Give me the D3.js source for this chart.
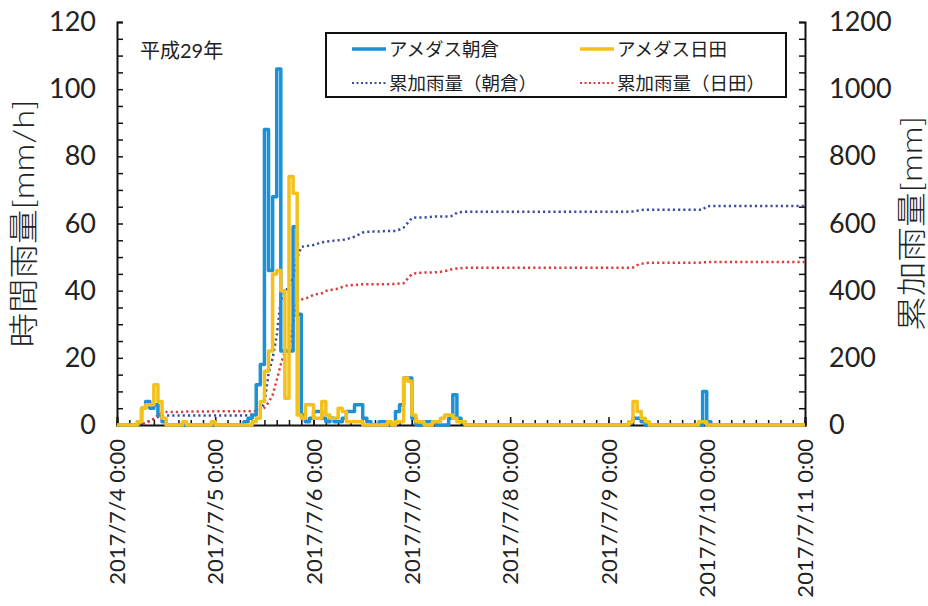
<!DOCTYPE html>
<html>
<head>
<meta charset="utf-8">
<script src="https://cdn.jsdelivr.net/npm/d3@7"></script>
<style>
  body { margin: 0; background: #fff; }
  text { font-family: Lato, "Noto Sans CJK JP", sans-serif; fill: #222; }
</style>
</head>
<body>
<svg id="chart" width="928" height="606"></svg>
<script>
// Hourly rainfall, 2017-07-04 00:00 to 2017-07-11 00:00 (one value per hour)
const startTime = new Date(2017, 6, 4, 0, 0);
const endTime = new Date(2017, 6, 11, 0, 0);

const asakura = [
  0,0,0,0,0, 1,5,7,5,6,3,1,
  0,0,0,0,0,0,0,0,0,0,0,0,0,0,0,0,0,0,0,
  1,2,3,12,18,88,46,68,106,22,22,22,59,33,
  3,1,2,4,4,2,1,2,1,1,2,4,4,6,6,2,1,
  0,0,1,1,0,0,4,6,14,14,2,0,0,1,1,1,0,0,0,2,9,2,1,
  0,0,0,0,0,0,0,0,0,0,0,0,0,0,0,0,0,0,0,0,
  0,0,0,0,0,0,0,0,0,0,0,0,0,0,0,0,0,0,0,0,
  1,2,2,1,
  0,0,0,0,0,0,0,0,0,0,0,0,0,0,
  10,1,
  0,0,0,0,0,0,0,0,0,0,0,0,0,0,0,0,0,0,0,0,0,0,0
];

const hita = [
  0,0,0,0,0, 1,5,6,6,12,7,2,
  0,0,0,0,1,0,0,0,0,0,0,1,
  0,0,0,0,0,0,0,0,0,
  1,2,7,16,22,45,46,40,8,74,69,3,
  2,6,6,2,2,7,3,2,2,5,4,1,1,1,1,0,
  0,0,0,0,0,1,0,1,
  1,14,13,3,
  1,1,0,0,1,1,2,3,3,2,1,1,
  0,0,0,0,0,0,0,0,0,0,0,0,0,0,0,0,0,0,0,0,
  0,0,0,0,0,0,0,0,0,0,0,0,0,0,0,0,0,0,0,0,
  1,7,4,2,1,
  0,0,0,0,0,0,0,0,0,0,0,0,
  1,1,
  0,0,0,0,0,0,0,0,0,0,0,0,0,0,0,0,0,0,0,0,0,0,0,0
];

const hourlyTicks = [0, 20, 40, 60, 80, 100, 120];
const cumulativeTicks = [0, 200, 400, 600, 800, 1000, 1200];
const seriesNames = ["アメダス朝倉", "アメダス日田", "累加雨量（朝倉）", "累加雨量（日田）"];
const seriesColors = ["#1d90d6", "#f4c01a", "#3b4e9e", "#e2383a"];
const yearLabel = "平成29年";
const leftTitle = "時間雨量[mm/h]";
const rightTitle = "累加雨量[mm]";

const W = 928, H = 606;
const margin = { left: 117, right: 123, top: 22, bottom: 181 };
const svg = d3.select("#chart");

const x = d3.scaleTime().domain([startTime, endTime]).range([margin.left, W - margin.right]);
const yL = d3.scaleLinear().domain([0, 120]).range([H - margin.bottom, margin.top]);
const yR = d3.scaleLinear().domain([0, 1200]).range([H - margin.bottom, margin.top]);

const hourAt = i => d3.timeHour.offset(startTime, i);
const fmt = d3.timeFormat("%Y/%-m/%-d %-H:%M");

// ---- axes ----
const bottomY = H - margin.bottom;
// 3-hour minor ticks
svg.append("g").attr("transform", `translate(0,${bottomY})`)
  .call(d3.axisBottom(x).ticks(d3.timeHour.every(3)).tickSize(-5).tickFormat(""))
  .call(g => g.select(".domain").remove())
  .selectAll("line").attr("stroke", "#111").attr("stroke-width", 1.5);
// day ticks with labels
const dayAxis = svg.append("g").attr("transform", `translate(0,${bottomY})`)
  .call(d3.axisBottom(x).ticks(d3.timeDay.every(1)).tickSize(-8).tickFormat(fmt));
dayAxis.select(".domain").attr("stroke", "#111").attr("stroke-width", 2);
dayAxis.selectAll("line").attr("stroke", "#111").attr("stroke-width", 1.5);
dayAxis.selectAll("text")
  .attr("font-size", 22)
  .attr("text-anchor", "end")
  .attr("dy", "0.35em")
  .attr("transform", "translate(0,14) rotate(-90)")
  .attr("x", 0).attr("y", 0)
  .style("font-family", "Lato, sans-serif");

// left axis
const leftAxis = svg.append("g").attr("transform", `translate(${margin.left},0)`)
  .call(d3.axisLeft(yL).tickValues(d3.range(0, 121, 5)).tickSize(-6)
    .tickFormat(d => hourlyTicks.includes(d) ? d : ""));
leftAxis.select(".domain").attr("stroke", "#111").attr("stroke-width", 2);
leftAxis.selectAll("line").attr("stroke", "#111").attr("stroke-width", 1.5);
leftAxis.selectAll("text").attr("font-size", 27).attr("x", -21);

// right axis
const rightAxis = svg.append("g").attr("transform", `translate(${W - margin.right},0)`)
  .call(d3.axisRight(yR).tickValues(d3.range(0, 1201, 50)).tickSize(-6)
    .tickFormat(d => cumulativeTicks.includes(d) ? d : ""));
rightAxis.select(".domain").attr("stroke", "#111").attr("stroke-width", 2);
rightAxis.selectAll("line").attr("stroke", "#111").attr("stroke-width", 1.5);
rightAxis.selectAll("text").attr("font-size", 27).attr("x", 24);

// axis titles
svg.append("text")
  .attr("transform", `translate(34,${(margin.top + bottomY) / 2}) rotate(-90)`)
  .attr("text-anchor", "middle").attr("font-size", 30).attr("font-weight", 300)
  .attr("textLength", 248).attr("lengthAdjust", "spacingAndGlyphs")
  .text(leftTitle);
svg.append("text")
  .attr("transform", `translate(922,${(margin.top + bottomY) / 2}) rotate(-90)`)
  .attr("text-anchor", "middle").attr("font-size", 30).attr("font-weight", 300)
  .attr("textLength", 215).attr("lengthAdjust", "spacingAndGlyphs")
  .text(rightTitle);

// ---- series ----
const stepLine = (vals) => {
  const pts = vals.map((v, i) => [hourAt(i), v]);
  pts.push([hourAt(vals.length), vals[vals.length - 1]]);
  return d3.line().x(d => x(d[0])).y(d => yL(d[1])).curve(d3.curveStepAfter)(pts);
};
const cumLine = (vals) => {
  const cs = Array.from(d3.cumsum(vals));
  const pts = [[startTime, 0]].concat(cs.map((v, i) => [hourAt(i + 1), v]));
  return d3.line().x(d => x(d[0])).y(d => yR(d[1]))(pts);
};

const plot = svg.append("g");
plot.append("path").attr("d", cumLine(asakura)).attr("fill", "none")
  .attr("stroke", seriesColors[2]).attr("stroke-width", 2.5)
  .attr("stroke-dasharray", "2.2 3").attr("stroke-linecap", "butt");
plot.append("path").attr("d", cumLine(hita)).attr("fill", "none")
  .attr("stroke", seriesColors[3]).attr("stroke-width", 2.5)
  .attr("stroke-dasharray", "2.2 3").attr("stroke-linecap", "butt");
plot.append("path").attr("d", stepLine(asakura)).attr("fill", "none")
  .attr("stroke", seriesColors[0]).attr("stroke-width", 3.5).attr("stroke-linejoin", "round");
plot.append("path").attr("d", stepLine(hita)).attr("fill", "none")
  .attr("stroke", seriesColors[1]).attr("stroke-width", 3.5).attr("stroke-linejoin", "round");

// year label
svg.append("text").attr("x", 140).attr("y", 58).attr("font-size", 20).text(yearLabel);

// ---- legend ----
const lg = svg.append("g");
lg.append("rect").attr("x", 326).attr("y", 33).attr("width", 460).attr("height", 64)
  .attr("fill", "#fff").attr("stroke", "#111").attr("stroke-width", 2);
const legendItems = [
  { name: seriesNames[0], color: seriesColors[0], dash: null, x: 352, y: 49 },
  { name: seriesNames[1], color: seriesColors[1], dash: null, x: 580, y: 49 },
  { name: seriesNames[2], color: seriesColors[2], dash: "2 2.5", x: 352, y: 83 },
  { name: seriesNames[3], color: seriesColors[3], dash: "2 2.5", x: 580, y: 83 }
];
legendItems.forEach(it => {
  lg.append("line").attr("x1", it.x).attr("x2", it.x + 34).attr("y1", it.y).attr("y2", it.y)
    .attr("stroke", it.color).attr("stroke-width", it.dash ? 2 : 3.5)
    .attr("stroke-dasharray", it.dash);
  lg.append("text").attr("x", it.x + 37).attr("y", it.y).attr("dy", "0.36em")
    .attr("font-size", 18.5).text(it.name);
});
</script>
</body>
</html>
